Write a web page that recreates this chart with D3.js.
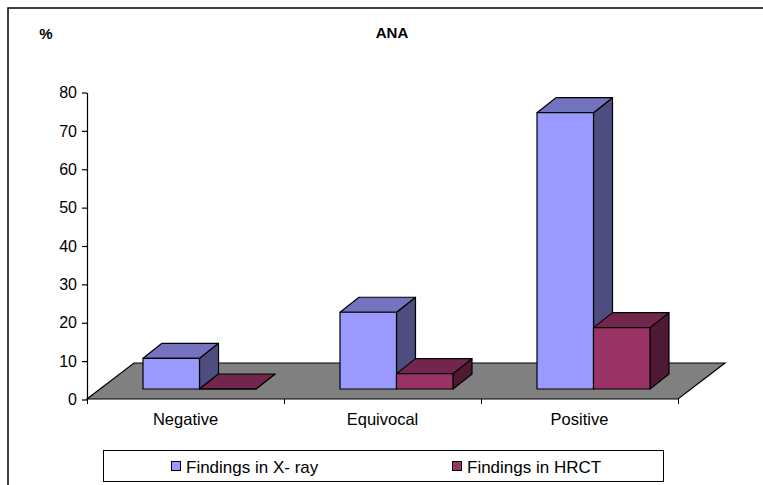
<!DOCTYPE html>
<html>
<head>
<meta charset="utf-8">
<script src="https://cdn.jsdelivr.net/npm/d3@7"></script>
<style>
html, body { margin: 0; padding: 0; background: #fff; overflow: hidden; }
text { font-family: "Liberation Sans", Arial, sans-serif; fill: #000; }
</style>
</head>
<body>
<div id="chart"></div>
<script>
const categories = ["Negative", "Equivocal", "Positive"];
const seriesNames = ["Findings in X- ray", "Findings in HRCT"];
const xrayValues = [8, 20, 72];
const hrctValues = [0, 4, 16];
const yTicks = [0, 10, 20, 30, 40, 50, 60, 70, 80];

const svgWidth = 763;
const svgHeight = 485;

const plot = { left: 87, right: 678, top: 92, bottom: 399 };
const depth = { dx: 47, dy: 36 };
const barDepth = { dx: 19, dy: 15 };
const barFloor = 389;

const seriesColors = [
	{ front: "#9999ff", top: "#7373bf", side: "#4d4d80" },
	{ front: "#993366", top: "#73264d", side: "#4d1933" },
];

const svg = d3
	.select("#chart")
	.append("svg")
	.attr("width", svgWidth)
	.attr("height", svgHeight)
	.attr("viewBox", `0 0 ${svgWidth} ${svgHeight}`);

const y = d3.scaleLinear().domain([0, 80]).range([plot.bottom, plot.top]);
const x = d3.scaleBand().domain(categories).range([plot.left, plot.right]);
const xInner = d3.scaleBand().domain(seriesNames).range([56, 169]);

const line = d3.line();

// outer frame, runs off the right and bottom of the picture
svg
	.append("rect")
	.attr("x", 8)
	.attr("y", 8)
	.attr("width", 770)
	.attr("height", 490)
	.attr("fill", "#fff")
	.attr("stroke", "#000")
	.attr("stroke-width", 1.5);

svg
	.append("text")
	.attr("x", 46)
	.attr("y", 39)
	.attr("text-anchor", "middle")
	.style("font-size", "15px")
	.style("font-weight", "bold")
	.text("%");

svg
	.append("text")
	.attr("x", 392)
	.attr("y", 38)
	.attr("text-anchor", "middle")
	.style("font-size", "15px")
	.style("font-weight", "bold")
	.text("ANA");

// floor
svg
	.append("path")
	.attr(
		"d",
		line([
			[plot.left, plot.bottom],
			[plot.right, plot.bottom],
			[plot.right + depth.dx, plot.bottom - depth.dy],
			[plot.left + depth.dx, plot.bottom - depth.dy],
		]) + "Z"
	)
	.attr("fill", "#808080")
	.attr("stroke", "#000")
	.attr("stroke-width", 1.2);

// axes
const yAxis = d3.axisLeft(y).tickValues(yTicks).tickSize(5).tickSizeOuter(0);
const yAxisG = svg.append("g").attr("transform", "translate(87, 0.5)").call(yAxis);
yAxisG.selectAll("line, path").attr("stroke", "#000").attr("stroke-width", 1.2);
yAxisG.selectAll("text").style("font-size", "16px").attr("x", -10);

const xTicks = [0, 1, 2, 3].map((i) => plot.left + i * x.bandwidth());
svg
	.selectAll("line.x-tick")
	.data(xTicks)
	.join("line")
	.attr("class", "x-tick")
	.attr("x1", (d) => Math.round(d) + 0.5)
	.attr("x2", (d) => Math.round(d) + 0.5)
	.attr("y1", plot.bottom)
	.attr("y2", plot.bottom + 5)
	.attr("stroke", "#000");

svg
	.selectAll("text.x-label")
	.data(categories)
	.join("text")
	.attr("class", "x-label")
	.attr("x", (d) => x(d) + x.bandwidth() / 2)
	.attr("y", 425)
	.attr("text-anchor", "middle")
	.style("font-size", "16.5px")
	.text((d) => d);

// one 3d bar: front, top and side faces
const drawBar = (g, x0, x1, val, colors) => {
	const topY = barFloor - (plot.bottom - y(val));
	const { dx, dy } = barDepth;
	const faces = [
		{
			fill: colors.side,
			pts: [[x1, barFloor], [x1 + dx, barFloor - dy], [x1 + dx, topY - dy], [x1, topY]],
		},
		{
			fill: colors.top,
			pts: [[x0, topY], [x1, topY], [x1 + dx, topY - dy], [x0 + dx, topY - dy]],
		},
		{
			fill: colors.front,
			pts: [[x0, barFloor], [x1, barFloor], [x1, topY], [x0, topY]],
		},
	];
	g.selectAll("path")
		.data(faces)
		.join("path")
		.attr("d", (d) => line(d.pts) + "Z")
		.attr("fill", (d) => d.fill)
		.attr("stroke", "#000")
		.attr("stroke-width", 1.2)
		.attr("stroke-linejoin", "round");
};

const allValues = [xrayValues, hrctValues];
categories.forEach((cat, c) => {
	seriesNames.forEach((name, s) => {
		const x0 = x(cat) + xInner(name);
		const x1 = x0 + xInner.bandwidth();
		drawBar(svg.append("g"), x0, x1, allValues[s][c], seriesColors[s]);
	});
});

// legend
const legend = svg.append("g");
legend
	.append("rect")
	.attr("x", 103.5)
	.attr("y", 450.5)
	.attr("width", 560)
	.attr("height", 31)
	.attr("fill", "#fff")
	.attr("stroke", "#000");

const legendX = [171, 452];
seriesNames.forEach((name, s) => {
	legend
		.append("rect")
		.attr("x", legendX[s] + 0.5)
		.attr("y", 461.5)
		.attr("width", 9)
		.attr("height", 9)
		.attr("fill", seriesColors[s].front)
		.attr("stroke", "#000");
	legend
		.append("text")
		.attr("x", legendX[s] + 15)
		.attr("y", 473)
		.style("font-size", "17px")
		.text(name);
});
</script>
</body>
</html>
